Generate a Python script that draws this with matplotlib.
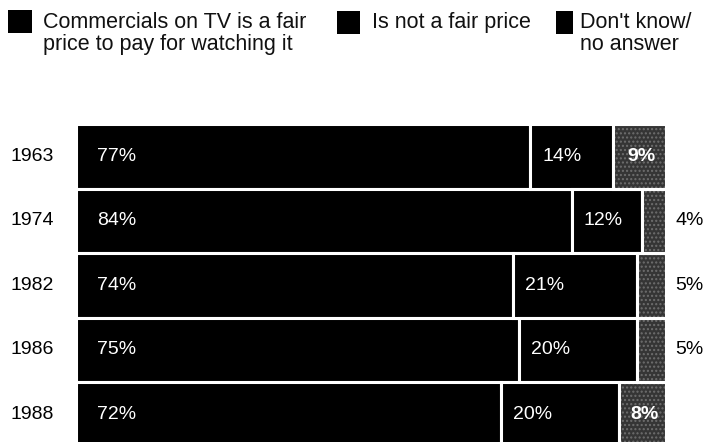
import matplotlib
matplotlib.use('Agg')
import matplotlib.pyplot as plt
from matplotlib.patches import Rectangle
import matplotlib.transforms as mtransforms
import numpy as np

# ---- data ----
years = ['1963', '1974', '1982', '1986', '1988']
fair = [77, 84, 74, 75, 72]
not_fair = [14, 12, 21, 20, 20]
dont_know = [9, 4, 5, 5, 8]
series_labels = ['Commercials on TV is a fair\nprice to pay for watching it',
                 'Is not a fair price',
                 "Don't know/\nno answer"]

plt.rcParams['font.family'] = ['Liberation Sans', 'DejaVu Sans']
plt.rcParams['hatch.linewidth'] = 1.0

W, H = 707, 442
fig = plt.figure(figsize=(W / 100, H / 100), dpi=100)


def fx(px):
    return px / W


def fy(py):
    return 1 - py / H


ax = fig.add_axes([fx(76), fy(446.5), (666 - 76) / W, (446.5 - 124) / H])
ax.set_xlim(0, 100)
ax.set_ylim(len(years) - 0.5, -0.5)
ax.axis('off')

y = np.arange(len(years))
lw = 2.2
fair_a = np.array(fair)
nf_a = np.array(not_fair)
dk_a = np.array(dont_know)
left3 = fair_a + nf_a

ax.barh(y, fair_a, height=1.0, color='black', edgecolor='white', linewidth=lw)
ax.barh(y, nf_a, left=fair_a, height=1.0, color='black', edgecolor='white', linewidth=lw)
ax.barh(y, dk_a, left=left3, height=1.0, color='#353535', edgecolor='#6e6e6e',
        linewidth=0, hatch='....')
ax.barh(y, dk_a, left=left3, height=1.0, color='none', edgecolor='white', linewidth=lw)

pt = 0.72  # points per pixel at dpi 100
fs = 14
for i in range(len(years)):
    ax.annotate(f'{fair[i]}%', xy=(0, i), xytext=(21 * pt, 0), textcoords='offset points',
                ha='left', va='center', color='white', fontsize=fs)
    ax.annotate(f'{not_fair[i]}%', xy=(fair[i], i), xytext=(12 * pt, 0),
                textcoords='offset points', ha='left', va='center', color='white', fontsize=fs)
    if dont_know[i] >= 8:
        ax.annotate(f'{dont_know[i]}%', xy=(left3[i] + dont_know[i] / 2, i), xytext=(2 * pt, 0),
                    textcoords='offset points', ha='center', va='center', color='white',
                    fontsize=fs, fontweight='bold')
    else:
        ax.annotate(f'{dont_know[i]}%', xy=(100, i), xytext=(9 * pt, 0),
                    textcoords='offset points', ha='left', va='center', color='black',
                    fontsize=fs)

trans = mtransforms.blended_transform_factory(fig.transFigure, ax.transData)
for i, yr in enumerate(years):
    ax.text(fx(10), i, yr, transform=trans, ha='left', va='center', fontsize=fs, color='black')

# ---- legend ----
sq = [(8, 10, 24, 23), (337, 11, 23, 23), (556, 11, 17, 23)]
txt_x = [43, 372, 580]
for (sx, sy, sw, sh), tx, lab in zip(sq, txt_x, series_labels):
    fig.add_artist(Rectangle((fx(sx), fy(sy + sh)), sw / W, sh / H,
                             transform=fig.transFigure, color='black', lw=0))
    fig.text(fx(tx), fy(12), lab, ha='left', va='top', fontsize=15.5,
             linespacing=1.05, color='#111111')

fig.savefig('out.png', dpi=100)
